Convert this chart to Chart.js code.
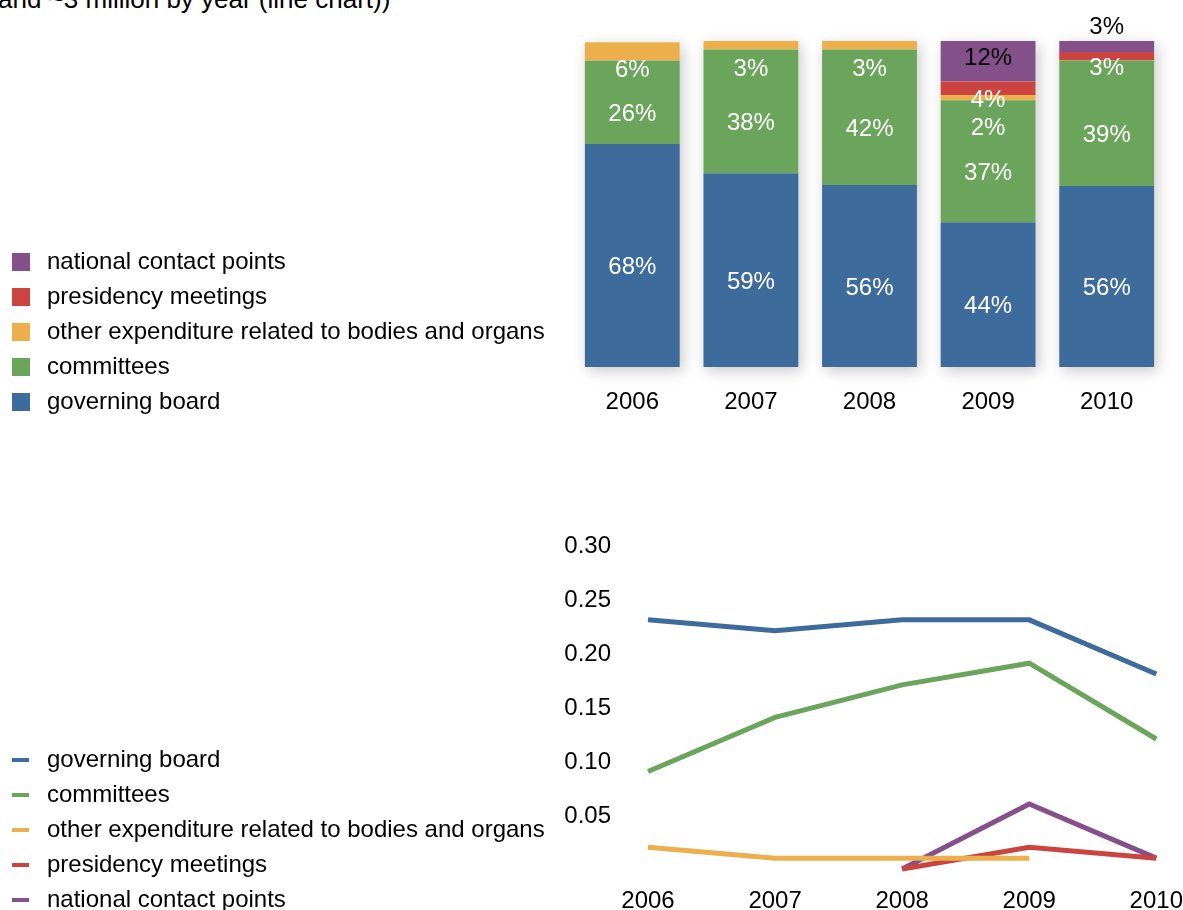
<!DOCTYPE html>
<html>
<head>
<meta charset="utf-8">
<script src="https://cdn.jsdelivr.net/npm/chart.js@4/dist/chart.umd.min.js"></script>
<style>
  html, body { margin: 0; padding: 0; background: #fff; overflow: hidden; }
  body { width: 1183px; height: 910px; position: relative; font-family: "Liberation Sans", Arial, sans-serif; }
  #title { position: absolute; left: -2px; top: -16px; font-size: 26px; line-height: 30px; white-space: nowrap; color: #000; }
  #barWrap { position: absolute; left: 0; top: 0; width: 1183px; height: 425px; }
  #lineWrap { position: absolute; left: 0; top: 470px; width: 1183px; height: 453px; }
</style>
</head>
<body>
<div id="title">and ~3 million by year (line chart))</div>
<div id="barWrap"><canvas id="shareChart"></canvas></div>
<div id="lineWrap"><canvas id="costChart"></canvas></div>
<script>
const years = ['2006', '2007', '2008', '2009', '2010'];

const seriesNames = [
  'governing board',
  'committees',
  'other expenditure related to bodies and organs',
  'presidency meetings',
  'national contact points'
];

// share of each body per year, in %
const governingShare = [68.4, 59.4, 55.8, 44.4, 55.5];
const committeesShare = [25.6, 38.0, 41.6, 37.4, 38.5];
const otherShare = [5.6, 2.6, 2.6, 1.6, null];
const presidencyShare = [null, null, null, 4.2, 2.6];
const nationalShare = [null, null, null, 12.4, 3.4];

// cost per year (line chart)
const governingCost = [0.23, 0.22, 0.23, 0.23, 0.18];
const committeesCost = [0.09, 0.14, 0.17, 0.19, 0.12];
const otherCost = [0.02, 0.01, 0.01, 0.01, null];
const presidencyCost = [null, null, 0.00, 0.02, 0.01];
const nationalCost = [null, null, 0.00, 0.06, 0.01];

const colors = ['#3d6b9b', '#6ba55b', '#edaf4c', '#cc443f', '#84508a'];

const FONT = '"Liberation Sans", Arial, sans-serif';
Chart.defaults.font.family = FONT;
Chart.defaults.font.size = 24;
Chart.defaults.color = '#000';
Chart.defaults.animation = false;

function swatch(color, kind) {
  const c = document.createElement('canvas');
  c.width = 22;
  c.height = 18;
  const g = c.getContext('2d');
  g.fillStyle = color;
  if (kind === 'line') {
    g.fillRect(0, 7, 17, 4);
  } else {
    g.fillRect(0, 0, 18, 18);
  }
  return c;
}

function legendLabels(kind) {
  return chart => chart.data.datasets.map((ds, i) => ({
    text: ds.label,
    fillStyle: colors[i],
    strokeStyle: colors[i],
    lineWidth: 0,
    hidden: false,
    pointStyle: swatch(colors[i], kind),
    datasetIndex: i
  }));
}

// soft shadow behind every stacked column
const barShadow = {
  id: 'barShadow',
  beforeDatasetsDraw(chart) {
    const ctx = chart.ctx;
    const metas = chart.data.datasets.map((d, i) => chart.getDatasetMeta(i));
    years.forEach((y, i) => {
      const base = metas[0].data[i];
      let top = base.base;
      metas.forEach((m, j) => {
        const v = chart.data.datasets[j].data[i];
        if (v != null && v > 0) top = Math.min(top, m.data[i].y);
      });
      ctx.save();
      ctx.shadowColor = 'rgba(0,0,0,0.22)';
      ctx.shadowBlur = 14;
      ctx.shadowOffsetX = 3;
      ctx.shadowOffsetY = 4;
      ctx.fillStyle = '#fff';
      ctx.fillRect(base.x - base.width / 2, top, base.width, base.base - top);
      ctx.restore();
    });
  }
};

// percentage labels inside the columns
const barLabels = {
  id: 'barLabels',
  afterDatasetsDraw(chart) {
    const ctx = chart.ctx;
    const n = chart.data.datasets.length;
    ctx.save();
    ctx.font = '24px ' + FONT;
    ctx.textAlign = 'center';
    ctx.textBaseline = 'middle';
    years.forEach((yr, i) => {
      const segs = [];
      for (let j = n - 1; j >= 0; j--) {
        const v = chart.data.datasets[j].data[i];
        if (v == null || v <= 0) continue;
        const el = chart.getDatasetMeta(j).data[i];
        segs.push({ j, v, el });
      }
      if (!segs.length) return;
      const barTop = segs[0].el.y;
      let lastY = barTop;
      segs.forEach(s => {
        const top = s.el.y, bottom = s.el.base;
        const h = bottom - top;
        const txt = Math.round(s.v) + '%';
        let y;
        if (s.j === n - 1) {
          ctx.fillStyle = '#000';
          y = h >= 30 ? top + 17 : barTop - 14;
        } else {
          ctx.fillStyle = '#fff';
          y = Math.max((top + bottom) / 2 + 12, lastY + 28);
        }
        lastY = y;
        ctx.fillText(txt, s.el.x, y);
      });
    });
    ctx.restore();
  }
};

const shareData = [governingShare, committeesShare, otherShare, presidencyShare, nationalShare];

new Chart(document.getElementById('shareChart'), {
  type: 'bar',
  data: {
    labels: years,
    datasets: shareData.map((d, i) => ({
      label: seriesNames[i],
      data: d,
      backgroundColor: colors[i],
      borderWidth: 0,
      barPercentage: 0.8,
      categoryPercentage: 1
    }))
  },
  options: {
    responsive: true,
    maintainAspectRatio: false,
    layout: { padding: { top: 41, right: 17, bottom: 0, left: 0 } },
    scales: {
      x: {
        stacked: true,
        grid: { display: false, drawTicks: false },
        border: { display: false },
        ticks: { padding: 21 },
        afterFit: s => { s.height = 58; }
      },
      y: {
        stacked: true,
        min: 0,
        max: 100,
        grid: { display: false, drawTicks: false },
        border: { display: false },
        ticks: { display: false },
        afterFit: s => { s.width = 573 - s.chart.legend.width; }
      }
    },
    plugins: {
      tooltip: { enabled: false },
      legend: {
        position: 'left',
        align: 'end',
        reverse: true,
        maxWidth: 700,
        labels: {
          usePointStyle: true,
          pointStyleWidth: 24,
          boxHeight: 18,
          padding: 11,
          generateLabels: legendLabels('box')
        }
      }
    }
  },
  plugins: [barShadow, barLabels]
});

const costData = [governingCost, committeesCost, otherCost, presidencyCost, nationalCost];

new Chart(document.getElementById('costChart'), {
  type: 'line',
  data: {
    labels: years,
    datasets: costData.map((d, i) => ({
      label: seriesNames[i],
      data: d,
      borderColor: colors[i],
      backgroundColor: colors[i],
      borderWidth: 5,
      pointRadius: 0,
      tension: 0,
      fill: false,
      clip: false
    }))
  },
  options: {
    responsive: true,
    maintainAspectRatio: false,
    layout: { padding: { top: 74, right: 14, bottom: 0, left: 0 } },
    scales: {
      x: {
        grid: { display: false, drawTicks: true, tickLength: 18 },
        border: { display: false },
        ticks: { padding: 0 },
        afterFit: s => { s.height = 54; }
      },
      y: {
        min: 0,
        max: 0.3,
        grid: { display: false, drawTicks: false },
        border: { display: false },
        ticks: {
          stepSize: 0.05,
          padding: 37,
          labelOffset: 2,
          callback: v => (v === 0 ? '' : v.toFixed(2))
        },
        afterFit: s => { s.width = 648 - s.chart.legend.width; }
      }
    },
    plugins: {
      tooltip: { enabled: false },
      legend: {
        position: 'left',
        align: 'end',
        maxWidth: 700,
        labels: {
          usePointStyle: true,
          pointStyleWidth: 24,
          boxHeight: 18,
          padding: 11,
          generateLabels: legendLabels('line')
        }
      }
    }
  }
});
</script>
</body>
</html>
